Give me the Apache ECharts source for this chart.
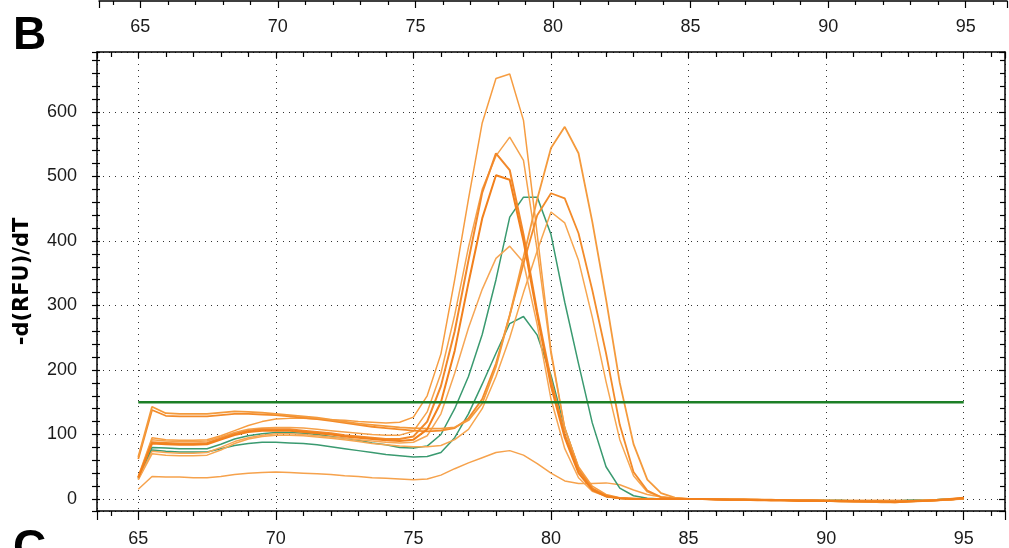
<!DOCTYPE html>
<html>
<head>
<meta charset="utf-8">
<script src="https://cdn.jsdelivr.net/npm/echarts@6/dist/echarts.min.js"></script>
<style>
html,body{margin:0;padding:0;background:#fff;}
#chart{width:1009px;height:548px;}
</style>
</head>
<body>
<div id="chart"></div>
<script>
// Temperature (°C), sampled every 0.5 °C
const temps = [65,65.5,66,66.5,67,67.5,68,68.5,69,69.5,
  70,70.5,71,71.5,72,72.5,73,73.5,74,74.5,
  75,75.5,76,76.5,77,77.5,78,78.5,79,79.5,
  80,80.5,81,81.5,82,82.5,83,83.5,84,84.5,
  85,85.5,86,86.5,87,87.5,88,88.5,89,89.5,
  90,90.5,91,91.5,92,92.5,93,93.5,94,94.5,95];

const xTicks = [65,70,75,80,85,90,95];
const yTicks = [0,100,200,300,400,500,600];
const yName = '-d(RFU)/dT';
const threshX = [65, 95];
const threshY = [150, 150];

// -d(RFU)/dT curves
const o660 = [35,95,92,91,91,92,98,106,114,120,
  124,125,125,124,123,122,120,119,118,119,
  127,160,225,340,465,583,652,659,587,410,
  230,110,50,20,7,2,1,0,0,0,
  0,0,0,-1,-1,-1,-2,-2,-2,-3,
  -3,-3,-4,-4,-4,-4,-4,-3,-2,-1,1];
const o562 = [34,92,90,89,89,90,96,103,108,110,
  111,111,110,108,106,104,102,100,99,99,
  105,135,195,285,390,480,532,561,525,385,
  225,110,48,17,5,1,0,0,0,0,
  0,0,-1,-1,-1,-2,-2,-2,-3,-3,
  -3,-4,-4,-4,-5,-5,-4,-3,-2,-1,0];
const o540 = [33,88,87,86,86,87,94,101,106,108,
  108,108,106,104,102,99,97,95,93,93,
  97,120,175,260,370,475,536,510,410,290,
  185,100,45,16,5,1,0,0,0,0,
  0,0,0,-1,-1,-1,-2,-2,-2,-2,
  -3,-3,-3,-4,-4,-4,-3,-3,-2,-1,1];
const o505 = [33,86,85,84,84,85,92,99,104,106,
  106,106,104,102,100,97,95,93,91,90,
  92,108,150,230,335,435,502,495,400,285,
  175,95,40,14,4,1,0,0,0,0,
  0,0,-1,-1,-1,-2,-2,-2,-3,-3,
  -3,-3,-4,-4,-4,-5,-4,-3,-2,0,2];
const o395 = [30,74,72,71,71,72,80,89,95,99,
  101,101,100,98,96,94,92,90,88,87,
  88,98,132,195,265,325,373,392,367,270,
  155,78,33,12,4,1,0,0,0,0,
  0,0,0,-1,-1,-1,-1,-2,-2,-2,
  -2,-3,-3,-3,-3,-3,-3,-2,-1,0,1];
const o577 = [65,143,133,132,132,132,134,136,135,134,
  132,130,128,126,123,120,117,115,113,111,
  110,109,109,111,122,148,205,285,375,465,
  544,577,536,430,310,180,85,30,9,2,
  0,0,0,-1,-1,-1,-2,-2,-3,-3,
  -3,-4,-4,-4,-5,-5,-4,-3,-2,-1,1];
const o475 = [62,138,129,128,128,128,130,132,132,131,
  130,128,126,124,121,118,115,112,110,108,
  106,105,106,110,125,155,210,285,365,440,
  474,466,412,324,226,115,42,13,3,1,
  0,0,0,-1,-1,-1,-1,-2,-2,-2,
  -3,-3,-3,-4,-4,-4,-3,-3,-2,-1,1];
const o445 = [30,70,68,67,67,68,76,86,93,97,
  99,99,98,96,94,92,89,86,84,82,
  81,81,83,92,108,140,190,250,320,385,
  445,428,370,282,182,92,36,11,3,1,
  0,0,0,0,-1,-1,-1,-1,-2,-2,
  -2,-2,-3,-3,-3,-3,-3,-2,-1,0,2];
const o75 = [15,35,34,34,33,33,35,38,40,41,
  42,41,40,39,38,36,35,33,32,31,
  30,31,37,47,56,64,72,75,68,55,
  40,28,24,24,25,22,14,7,3,1,
  0,0,0,0,0,-1,-1,-1,-1,-1,
  -2,-2,-2,-2,-2,-2,-2,-1,-1,0,1];
const g470 = [32,80,79,78,78,78,85,93,98,101,
  103,103,102,100,97,94,91,87,84,80,
  79,82,100,140,190,255,340,437,468,468,
  410,305,210,118,50,17,5,1,0,0,
  0,0,0,-1,-1,-1,-2,-2,-2,-2,
  -3,-3,-3,-3,-3,-3,-3,-2,-1,0,0];
const g283 = [31,76,74,73,73,73,78,83,86,88,
  88,87,86,84,81,78,75,72,69,67,
  65,66,72,95,132,178,226,272,283,254,
  192,110,48,15,4,1,0,0,0,0,
  0,0,0,-1,-1,-1,-1,-2,-2,-2,
  -2,-2,-3,-3,-3,-3,-2,-2,-1,0,0];

const curves = [
  {name:'S1', values:o75,  color:'#f6a24c', width:1.5},
  {name:'S2', values:g283, color:'#3a9a70', width:1.5},
  {name:'S3', values:g470, color:'#3a9a70', width:1.5},
  {name:'S4', values:o445, color:'#f7a64f', width:1.5},
  {name:'S5', values:o395, color:'#f6a655', width:1.5},
  {name:'S6', values:o562, color:'#f5a24c', width:1.5},
  {name:'S7', values:o660, color:'#f69d42', width:1.5},
  {name:'S8', values:o475, color:'#f38b2a', width:1.8},
  {name:'S9', values:o577, color:'#f49a3c', width:1.8},
  {name:'S10', values:o540, color:'#f2882a', width:2},
  {name:'S11', values:o505, color:'#f2801c', width:2}
];

const FONT = '"Liberation Sans", Arial, sans-serif';
const TXT = '#1a1a1a';
const dotted = {show:true, lineStyle:{color:'#333', width:1, type:[1,5]}};

const series = curves.map(c => ({
  name: c.name, type:'line', xAxisIndex:0, yAxisIndex:0,
  data: temps.map((t,i)=>[t, c.values[i]]),
  showSymbol:false, symbol:'none', smooth:false,
  lineStyle:{color:c.color, width:c.width}, z:3
}));
series.push({
  name:'threshold', type:'line', xAxisIndex:0, yAxisIndex:0,
  data: threshX.map((t,i)=>[t, threshY[i]]),
  showSymbol:false, symbol:'none',
  lineStyle:{color:'#1c7f26', width:2.6}, z:5
});

const chart = echarts.init(document.getElementById('chart'), null, {renderer:'canvas'});
chart.setOption({
  animation:false,
  backgroundColor:'#fff',
  grid:[
    {left:97, top:52, right:4, bottom:37, containLabel:false, outerBoundsMode:'none'},
    {left:99, right:2, top:-40, height:41, containLabel:false, outerBoundsMode:'none'}
  ],
  xAxis:[
    {gridIndex:0, type:'value', position:'bottom', min:63.5, max:96.5, minInterval:5, maxInterval:5,
     axisLine:{show:true, onZero:false, lineStyle:{color:'#000', width:1.5}},
     axisTick:{show:true, inside:false, length:9, lineStyle:{color:'#000', width:1.2}},
     minorTick:{show:true, splitNumber:5, length:5, lineStyle:{color:'#000', width:1.2}},
     axisLabel:{show:true, fontSize:18, color:TXT, fontFamily:FONT, margin:19, showMinLabel:false, showMaxLabel:false,
       formatter: v => xTicks.includes(v) ? String(v) : ''},
     splitLine:dotted},
    {gridIndex:0, type:'value', position:'top', min:63.5, max:96.5, minInterval:5, maxInterval:5,
     axisLine:{show:true, onZero:false, lineStyle:{color:'#000', width:1.5}},
     axisTick:{show:true, inside:true, length:6, lineStyle:{color:'#000', width:1.2}},
     minorTick:{show:true, splitNumber:5, length:5, lineStyle:{color:'#000', width:1.2}},
     axisLabel:{show:false}, splitLine:{show:false}},
    {gridIndex:1, type:'value', position:'bottom', min:63.5, max:96.5, minInterval:5, maxInterval:5,
     axisLine:{show:true, onZero:false, lineStyle:{color:'#000', width:1.5}},
     axisTick:{show:true, inside:false, length:7, lineStyle:{color:'#000', width:1.2}},
     minorTick:{show:true, splitNumber:5, length:4, lineStyle:{color:'#000', width:1.2}},
     axisLabel:{show:true, fontSize:18, color:TXT, fontFamily:FONT, margin:17, showMinLabel:false, showMaxLabel:false,
       formatter: v => xTicks.includes(v) ? String(v) : ''},
     splitLine:{show:false}}
  ],
  yAxis:[
    {gridIndex:0, type:'value', position:'left', min:-18.6, max:693, minInterval:100, maxInterval:100,
     name:yName, nameLocation:'middle', nameGap:64, nameRotate:90,
     nameTextStyle:{fontSize:21, fontWeight:'bold', color:'#000', fontFamily:'"DejaVu Sans", Verdana, sans-serif'},
     axisLine:{show:true, onZero:false, lineStyle:{color:'#000', width:1.5}},
     axisTick:{show:true, inside:false, length:5, lineStyle:{color:'#000', width:1.2}},
     minorTick:{show:true, splitNumber:5, length:5, lineStyle:{color:'#000', width:1.2}},
     axisLabel:{show:true, fontSize:18, color:TXT, fontFamily:FONT, margin:20, showMinLabel:false, showMaxLabel:false,
       formatter: v => yTicks.includes(v) ? String(v) : ''},
     splitLine:dotted},
    {gridIndex:0, type:'value', position:'left', min:-18.6, max:693, minInterval:100, maxInterval:100,
     axisLine:{show:false},
     axisTick:{show:true, inside:true, length:3, lineStyle:{color:'#000', width:1.2}},
     minorTick:{show:true, splitNumber:5, length:3, lineStyle:{color:'#000', width:1.2}},
     axisLabel:{show:false}, splitLine:{show:false}},
    {gridIndex:0, type:'value', position:'right', min:-18.6, max:693, minInterval:100, maxInterval:100,
     axisLine:{show:true, onZero:false, lineStyle:{color:'#000', width:1.5}},
     axisTick:{show:true, inside:true, length:6, lineStyle:{color:'#000', width:1.2}},
     minorTick:{show:true, splitNumber:5, length:5, lineStyle:{color:'#000', width:1.2}},
     axisLabel:{show:false}, splitLine:{show:false}},
    {gridIndex:1, type:'value', min:0, max:1, show:false}
  ],
  graphic:[
    {type:'text', left:13, top:13, style:{text:'B', font:'bold 46px "Liberation Sans", Arial, sans-serif', fill:'#000'}},
    {type:'text', left:13, top:526, style:{text:'C', font:'bold 46px "Liberation Sans", Arial, sans-serif', fill:'#000'}}
  ],
  series: series
});
</script>
</body>
</html>
